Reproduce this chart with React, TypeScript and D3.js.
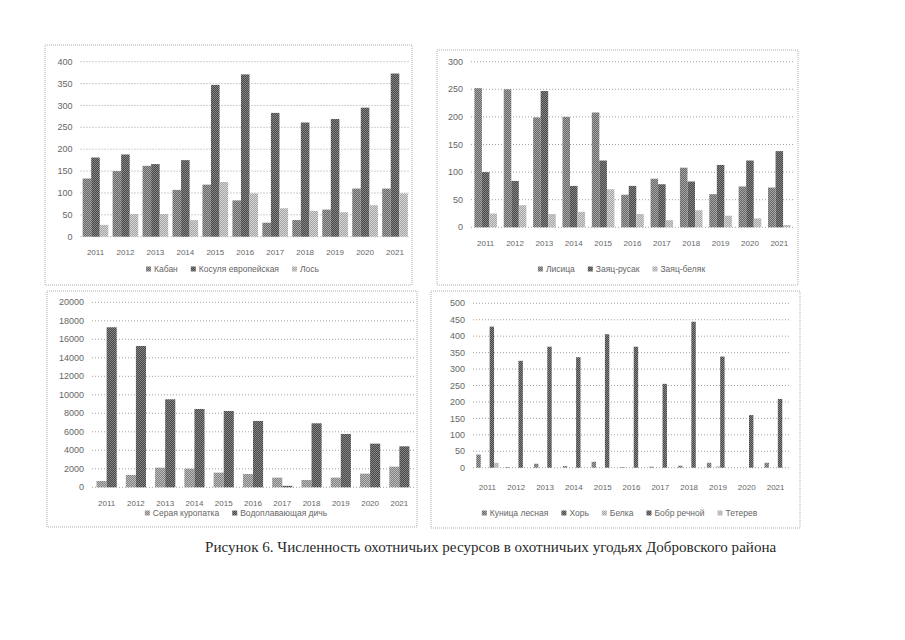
import { range, scaleBand, scaleLinear } from "d3";

const years = ["2011", "2012", "2013", "2014", "2015", "2016", "2017", "2018", "2019", "2020", "2021"];

// panel 1 - копытные
const kaban = [133, 150, 162, 107, 119, 83, 32, 38, 62, 110, 110];
const kosulya = [181, 188, 166, 175, 347, 371, 283, 261, 269, 295, 373];
const los = [27, 52, 52, 38, 125, 99, 65, 59, 56, 72, 99];

// panel 2 - лисица и зайцы
const lisica = [252, 250, 199, 200, 208, 59, 88, 108, 60, 74, 72];
const rusak = [100, 84, 247, 75, 121, 75, 78, 83, 113, 121, 138];
const belyak = [25, 40, 24, 28, 69, 24, 13, 31, 21, 16, 4];

// panel 3 - птицы
const kuropatka = [685, 1333, 2126, 2018, 1586, 1441, 1045, 793, 1045, 1477, 2234];
const dich = [17300, 15280, 9514, 8468, 8252, 7171, 160, 6919, 5766, 4721, 4432];

// panel 4 - пушные
const kunica = [40, 2, 12, 5, 18, 2, 3, 6, 15, 0, 15];
const hor = [0, 0, 0, 0, 0, 0, 0, 0, 0, 0, 0];
const belka = [0, 0, 0, 0, 0, 0, 0, 0, 4, 0, 0];
const bobr = [429, 325, 368, 336, 406, 368, 255, 444, 338, 160, 209];
const teterev = [15, 0, 0, 0, 0, 0, 0, 0, 0, 0, 0];

const caption = "Рисунок 6. Численность охотничьих ресурсов в охотничьих угодьях Добровского района";

const FONT = "'Liberation Sans', Arial, sans-serif";

const patterns = [
  { id: "mid", bg: "#a6a6a6", fg: "#4a4a4a" },
  { id: "dark", bg: "#858585", fg: "#2e2e2e" },
  { id: "light", bg: "#d6d6d6", fg: "#8e8e8e" },
  { id: "midlight", bg: "#bdbdbd", fg: "#666" },
];

interface Series {
  name: string;
  values: number[];
  fill: string;
}

interface PanelProps {
  frame: [number, number, number, number];
  left: number;
  right: number;
  top: number;
  bottom: number;
  yMax: number;
  yStep: number;
  gap: number;
  series: Series[];
  yearY: number;
  legendY: number;
}

let ctx: CanvasRenderingContext2D | null = null;
function textWidth(t: string, size: number) {
  if (!ctx) ctx = document.createElement("canvas").getContext("2d");
  if (!ctx) return t.length * size * 0.5;
  ctx.font = `${size}px "Liberation Sans"`;
  return ctx.measureText(t).width;
}

function Panel({ frame, left, right, top, bottom, yMax, yStep, gap, series, yearY, legendY }: PanelProps) {
  const [fx, fy, fw, fh] = frame;
  const x0 = scaleBand().domain(years).range([left, right]).padding(0);
  const x1 = scaleBand()
    .domain(series.map((s) => s.name))
    .range([0, x0.bandwidth()])
    .paddingInner(0)
    .paddingOuter(gap / 2);
  const y = scaleLinear().domain([0, yMax]).range([bottom, top]);
  const ticks = range(0, yMax + yStep / 2, yStep);

  // legend layout, centred in frame
  const sw = 5;
  const items = series.map((s) => ({ s, w: sw + 3 + textWidth(s.name, 8.5) }));
  const spacing = 13;
  const total = items.reduce((a, b) => a + b.w, 0) + spacing * (items.length - 1);
  let lx = fx + fw / 2 - total / 2 + 4;
  const legend = items.map((it) => {
    const pos = lx;
    lx += it.w + spacing;
    return { ...it, pos };
  });

  return (
    <g>
      <rect x={fx} y={fy} width={fw} height={fh} fill="none" stroke="#9a9a9a" strokeDasharray="1,1" strokeWidth={0.8} />
      {ticks.map((t) => (
        <g key={t}>
          <line x1={left} x2={right} y1={y(t)} y2={y(t)} stroke="#8a8a8a" strokeDasharray="1,2" strokeWidth={0.8} />
          <text x={left - 8} y={y(t)} dy="0.35em" textAnchor="end" fontSize={9} fill="#666" fontFamily={FONT}>
            {t}
          </text>
        </g>
      ))}
      {series.map((s) =>
        s.values.map((v, i) =>
          v > 0 ? (
            <rect
              key={s.name + i}
              x={(x0(years[i]) ?? 0) + (x1(s.name) ?? 0)}
              y={y(v)}
              width={x1.bandwidth()}
              height={bottom - y(v)}
              fill={`url(#${s.fill})`}
            />
          ) : null
        )
      )}
      {years.map((yr) => (
        <text
          key={yr}
          x={(x0(yr) ?? 0) + x0.bandwidth() / 2}
          y={yearY}
          dy="0.35em"
          textAnchor="middle"
          fontSize={8}
          fill="#666"
          fontFamily={FONT}
        >
          {yr}
        </text>
      ))}
      {legend.map(({ s, pos }) => (
        <g key={s.name}>
          <rect x={pos} y={legendY - sw / 2} width={sw} height={sw} fill={`url(#${s.fill})`} />
          <text x={pos + sw + 3} y={legendY} dy="0.35em" fontSize={8.5} fill="#666" fontFamily={FONT}>
            {s.name}
          </text>
        </g>
      ))}
    </g>
  );
}

export default function App() {
  return (
    <svg
      width={905}
      height={640}
      style={{ position: "absolute", left: 0, top: 0, background: "#fff" }}
    >
      <defs>
        {patterns.map((p) => (
          <pattern key={p.id} id={p.id} patternUnits="userSpaceOnUse" width={2} height={2}>
            <rect width={2} height={2} fill={p.bg} />
            <path d="M-0.5,0.5 l1,-1 M0,2 l2,-2 M1.5,2.5 l1,-1" stroke={p.fg} strokeWidth={0.7} />
          </pattern>
        ))}
      </defs>
      <Panel
        frame={[45, 45, 367, 240]}
        left={80.5}
        right={410}
        top={61.7}
        bottom={236.7}
        yMax={400}
        yStep={50}
        gap={0.5}
        yearY={252}
        legendY={269}
        series={[
          { name: "Кабан", values: kaban, fill: "mid" },
          { name: "Косуля европейская", values: kosulya, fill: "dark" },
          { name: "Лось", values: los, fill: "light" },
        ]}
      />
      <Panel
        frame={[437, 50, 361, 235]}
        left={471}
        right={794}
        top={61.7}
        bottom={227.3}
        yMax={300}
        yStep={50}
        gap={0.9}
        yearY={243}
        legendY={269}
        series={[
          { name: "Лисица", values: lisica, fill: "mid" },
          { name: "Заяц-русак", values: rusak, fill: "dark" },
          { name: "Заяц-беляк", values: belyak, fill: "light" },
        ]}
      />
      <Panel
        frame={[47, 291, 370, 236]}
        left={92}
        right={414}
        top={302.3}
        bottom={487.3}
        yMax={20000}
        yStep={2000}
        gap={0.9}
        yearY={503}
        legendY={513}
        series={[
          { name: "Серая куропатка", values: kuropatka, fill: "midlight" },
          { name: "Водоплавающая дичь", values: dich, fill: "dark" },
        ]}
      />
      <Panel
        frame={[431, 291, 369, 237]}
        left={473}
        right={790}
        top={303.3}
        bottom={467.7}
        yMax={500}
        yStep={50}
        gap={1.5}
        yearY={487}
        legendY={513}
        series={[
          { name: "Куница лесная", values: kunica, fill: "mid" },
          { name: "Хорь", values: hor, fill: "dark" },
          { name: "Белка", values: belka, fill: "light" },
          { name: "Бобр речной", values: bobr, fill: "dark" },
          { name: "Тетерев", values: teterev, fill: "light" },
        ]}
      />
      <text x={205} y={552} fontSize={15.1} fill="#2a2a2a" fontFamily="'Liberation Serif', 'Times New Roman', serif">
        {caption}
      </text>
    </svg>
  );
}
